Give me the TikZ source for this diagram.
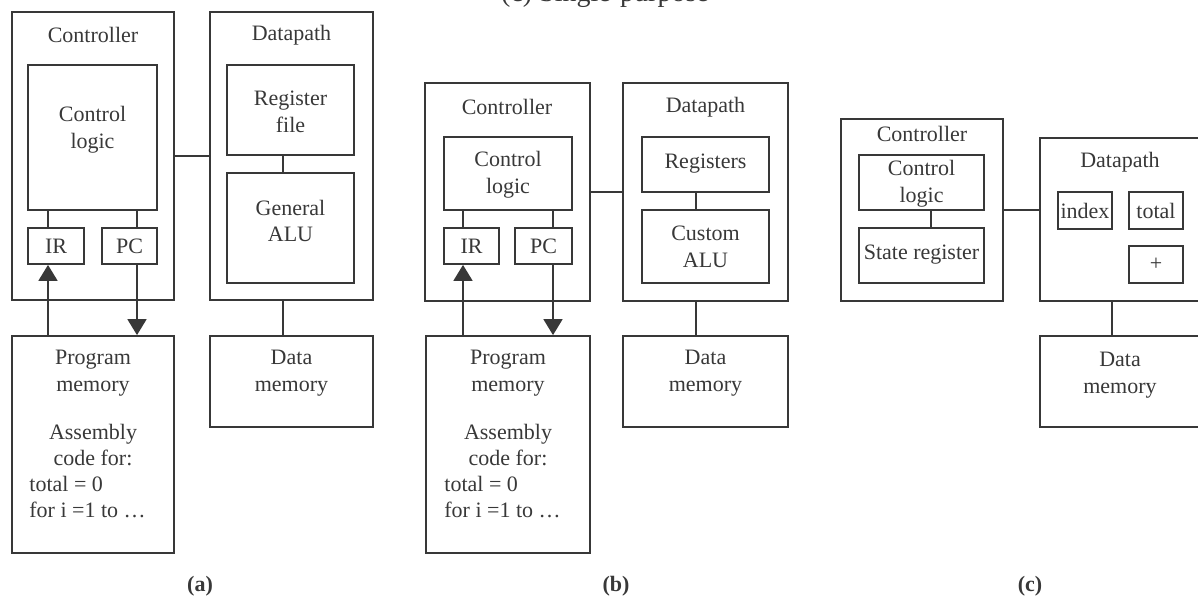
\documentclass[tikz,border=0pt]{standalone}
\usepackage{fontspec}
\setmainfont{Liberation Serif}
\usetikzlibrary{arrows.meta,fit}
\definecolor{ink}{HTML}{383838}
\begin{document}
\begin{tikzpicture}[x=0.5pt,y=-0.5pt,
  box/.style={draw=ink, line width=0.9pt, inner sep=0pt},
  txt/.style={text=ink, font=\fontsize{11}{13.3}\selectfont, align=center, inner sep=0pt},
  wire/.style={draw=ink, line width=0.9pt},
  arr/.style={wire, -{Triangle[width=9.5pt,length=8pt]}},
  captxt/.style={text=ink, font=\fontsize{11}{13}\selectfont\bfseries, inner sep=0pt}]
\useasboundingbox (0,0) rectangle (1198,599);
\clip (0,0) rectangle (1198,599);

\node[txt, font=\fontsize{14}{16}\selectfont, anchor=base] (title) at (605,2) {(c) Single-purpose};

% ---------- (a) ----------
\node[box, fit={(12,12)(174,300)}] (ctrlA) {};
\node[txt] (ctrlAt) at (93,35) {Controller};
\node[box, fit={(28,65)(157,210)}] (clA) {};
\node[txt] (clAt) at (92.5,130) {Control\\logic};
\node[box, fit={(28,228)(84,264)}] (irA) {};
\node[txt] (irAt) at (irA.center) {IR};
\node[box, fit={(102,228)(157,264)}] (pcA) {};
\node[txt] (pcAt) at (pcA.center) {PC};
\node[box, fit={(210,12)(373,300)}] (dpA) {};
\node[txt] (dpAt) at (291.5,35) {Datapath};
\node[box, fit={(227,65)(354,155)}] (rfA) {};
\node[txt] (rfAt) at (290.5,112) {Register\\file};
\node[box, fit={(227,173)(354,283)}] (aluA) {};
\node[txt] (aluAt) at (290.5,221) {General\\ALU};
\node[box, fit={(12,336)(174,553)}] (pmA) {};
\node[txt] (pmAt) at (93,373) {Program\\memory};
\node[txt] (asmAt) at (93,445) {Assembly\\code for:};
\node[txt, align=left, anchor=west] (codeAt) at (29,497) {total = 0\\for i =1 to \ldots};
\node[box, fit={(210,336)(373,427)}] (dmA) {};
\node[txt] (dmAt) at (291.5,373) {Data\\memory};
\node[captxt] (capA) at (200,586) {(a)};

\coordinate (xA1) at (48,0);
\coordinate (xA2) at (137,0);
\coordinate (xA3) at (283,0);
\draw[wire] (xA1 |- clA.south) -- (xA1 |- irA.north);
\draw[wire] (xA2 |- clA.south) -- (xA2 |- pcA.north);
\draw[arr] (xA1 |- pmA.north) -- (xA1 |- irA.south);
\draw[arr] (xA2 |- pcA.south) -- (xA2 |- pmA.north);
\draw[wire] (ctrlA.east) -- (dpA.west);
\draw[wire] (xA3 |- rfA.south) -- (xA3 |- aluA.north);
\draw[wire] (xA3 |- dpA.south) -- (xA3 |- dmA.north);

% ---------- (b) ----------
\node[box, fit={(425,83)(590,301)}] (ctrlB) {};
\node[txt] (ctrlBt) at (507,107) {Controller};
\node[box, fit={(444,137)(572,210)}] (clB) {};
\node[txt] (clBt) at (508,175) {Control\\logic};
\node[box, fit={(444,228)(499,264)}] (irB) {};
\node[txt] (irBt) at (irB.center) {IR};
\node[box, fit={(515,228)(572,264)}] (pcB) {};
\node[txt] (pcBt) at (pcB.center) {PC};
\node[box, fit={(623,83)(788,301)}] (dpB) {};
\node[txt] (dpBt) at (705.5,107) {Datapath};
\node[box, fit={(642,137)(769,192)}] (regB) {};
\node[txt] (regBt) at (705.5,164) {Registers};
\node[box, fit={(642,210)(769,283)}] (aluB) {};
\node[txt] (aluBt) at (705.5,247) {Custom\\ALU};
\node[box, fit={(426,336)(590,553)}] (pmB) {};
\node[txt] (pmBt) at (508,373) {Program\\memory};
\node[txt] (asmBt) at (508,445) {Assembly\\code for:};
\node[txt, align=left, anchor=west] (codeBt) at (444,497) {total = 0\\for i =1 to \ldots};
\node[box, fit={(623,336)(788,427)}] (dmB) {};
\node[txt] (dmBt) at (705.5,373) {Data\\memory};
\node[captxt] (capB) at (616,586) {(b)};

\coordinate (xB1) at (463,0);
\coordinate (xB2) at (553,0);
\coordinate (xB3) at (696,0);
\draw[wire] (xB1 |- clB.south) -- (xB1 |- irB.north);
\draw[wire] (xB2 |- clB.south) -- (xB2 |- pcB.north);
\draw[arr] (xB1 |- pmB.north) -- (xB1 |- irB.south);
\draw[arr] (xB2 |- pcB.south) -- (xB2 |- pmB.north);
\draw[wire] (ctrlB.east) -- (dpB.west);
\draw[wire] (xB3 |- regB.south) -- (xB3 |- aluB.north);
\draw[wire] (xB3 |- dpB.south) -- (xB3 |- dmB.north);

% ---------- (c) ----------
\node[box, fit={(841,119)(1003,301)}] (ctrlC) {};
\node[txt] (ctrlCt) at (922,134) {Controller};
\node[box, fit={(859,155)(984,210)}] (clC) {};
\node[txt] (clCt) at (921.5,184) {Control\\logic};
\node[box, fit={(859,228)(984,283)}] (stC) {};
\node[txt] (stCt) at (921.5,255) {State register};
\node[box, fit={(1040,138)(1215,301)}] (dpC) {};
\node[txt] (dpCt) at (1120,162) {Datapath};
\node[box, fit={(1058,192)(1112,229)}] (idxC) {};
\node[txt] (idxCt) at (idxC.center) {index};
\node[box, fit={(1129,192)(1183,229)}] (totC) {};
\node[txt] (totCt) at (totC.center) {total};
\node[box, fit={(1129,246)(1183,283)}] (plusC) {};
\node[txt] (plusCt) at (plusC.center) {+};
\node[box, fit={(1040,336)(1215,427)}] (dmC) {};
\node[txt] (dmCt) at (1120,375) {Data\\memory};
\node[captxt] (capC) at (1030,586) {(c)};

\coordinate (xC1) at (931,0);
\coordinate (xC2) at (1112,0);
\draw[wire] (xC1 |- clC.south) -- (xC1 |- stC.north);
\draw[wire] (ctrlC.east) -- (ctrlC.east -| dpC.west);
\draw[wire] (xC2 |- dpC.south) -- (xC2 |- dmC.north);
\end{tikzpicture}
\end{document}
